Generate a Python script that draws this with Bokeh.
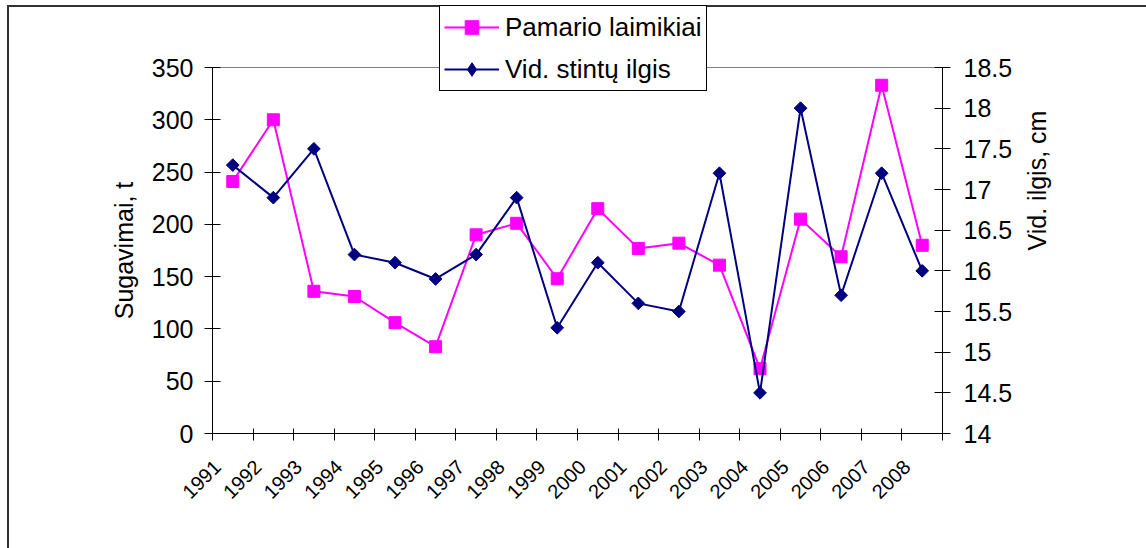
import math
from bokeh.plotting import figure
from bokeh.models import (Range1d, LinearAxis, FixedTicker, Legend, LegendItem,
                          CustomJSTickFormatter, CustomLabelingPolicy)
from bokeh.embed import file_html
from bokeh.resources import INLINE

# ---- data ----
years = ["1991", "1992", "1993", "1994", "1995", "1996", "1997", "1998", "1999",
         "2000", "2001", "2002", "2003", "2004", "2005", "2006", "2007", "2008"]
catch_t = [241, 300, 136, 131, 106, 83, 190, 201, 148,
           215, 177, 182, 161, 62, 205, 169, 333, 180]
length_cm = [17.3, 16.9, 17.5, 16.2, 16.1, 15.9, 16.2, 16.9, 15.3,
             16.1, 15.6, 15.5, 17.2, 14.5, 18.0, 15.7, 17.2, 16.0]
left_ticks = [0, 50, 100, 150, 200, 250, 300, 350]
right_ticks = [14, 14.5, 15, 15.5, 16, 16.5, 17, 17.5, 18, 18.5]
series_names = ["Pamario laimikiai", "Vid. stintų ilgis"]
left_title = "Sugavimai, t"
right_title = "Vid. ilgis, cm"

FONT = "Liberation Sans"
FS = "25px"
XFS = "20px"
LFS = "26px"
PINK = "#FF00FF"
NAVY = "#000080"

# ---- geometry (pixels) ----
W, H = 1146, 548
PLOT_L, PLOT_R = 212, 942          # value-axis positions
AX_TOP, AX_BOT = 67, 433           # value-axis extent
FRAME_L, FRAME_R = 140, 1020       # frame enlarged so nothing gets clipped
FRAME_TOP, FRAME_BOT = 0, 500

n = len(years)
xpos = [i + 0.5 for i in range(n)]
cat_px = (PLOT_R - PLOT_L) / n


def extended_y(lo, hi):
    per_px = (hi - lo) / (AX_BOT - AX_TOP)
    return Range1d(lo - (FRAME_BOT - AX_BOT) * per_px, hi + (AX_TOP - FRAME_TOP) * per_px)


x_range = Range1d(-(PLOT_L - FRAME_L) / cat_px, n + (FRAME_R - PLOT_R) / cat_px)

p = figure(width=W, height=H, output_backend="svg", toolbar_location=None,
           x_range=x_range, y_range=extended_y(left_ticks[0], left_ticks[-1]),
           min_border_left=FRAME_L, min_border_right=W - FRAME_R,
           min_border_top=FRAME_TOP, min_border_bottom=H - FRAME_BOT)
# outer chart-area border (only its left and top edges are inside the window)
p.styles = {"box-shadow": "inset 7px 5px 0 0 #ffffff, inset 9px 7px 0 0 #333333"}
p.grid.visible = False
p.outline_line_color = None
p.background_fill_color = None
p.border_fill_color = None

p.extra_y_ranges = {"cm": extended_y(right_ticks[0], right_ticks[-1])}

# top edge of the plot area
p.segment(x0=0, y0=left_ticks[-1], x1=n, y1=left_ticks[-1],
          line_color="#808080", line_width=1)


def style_text(ax, size):
    ax.major_label_text_font = FONT
    ax.major_label_text_font_size = size
    ax.major_label_text_color = "black"
    ax.axis_line_color = "black"
    ax.major_tick_line_color = "black"
    ax.minor_tick_line_color = None


# x axis: tick marks only, at the category boundaries
xa = p.xaxis[0]
xa.fixed_location = left_ticks[0]
xa.bounds = (0, n)
xa.ticker = FixedTicker(ticks=list(range(n + 1)))
style_text(xa, "0px")
xa.major_tick_in = 5
xa.major_tick_out = 7
xa.major_label_policy = CustomLabelingPolicy(
    code="try { for (const i of Array.from(indices)) indices.unset(i) } catch (e) {} return indices")

# x axis labels (rotated), anchored just right of each boundary tick
LSHIFT = 0.12
xl = LinearAxis(fixed_location=left_ticks[0], bounds=(0, n),
                ticker=FixedTicker(ticks=[i + LSHIFT for i in range(n)]),
                formatter=CustomJSTickFormatter(
                    args=dict(labels=years, shift=LSHIFT),
                    code="const k = Math.round(tick - shift); return labels[k] ?? '';"))
p.add_layout(xl, "below")
style_text(xl, XFS)
xl.axis_line_color = None
xl.major_tick_line_color = None
xl.major_tick_in = 0
xl.major_tick_out = 0
xl.major_label_orientation = math.pi / 4
xl.major_label_standoff = 30

# left value axis
ya = p.yaxis[0]
ya.fixed_location = 0
ya.ticker = FixedTicker(ticks=left_ticks)
ya.bounds = (left_ticks[0], left_ticks[-1])
style_text(ya, FS)
ya.major_tick_in = 8
ya.major_tick_out = 8
ya.major_label_standoff = 11

# right value axis
yr = LinearAxis(y_range_name="cm", fixed_location=n,
                ticker=FixedTicker(ticks=right_ticks),
                bounds=(right_ticks[0], right_ticks[-1]),
                formatter=CustomJSTickFormatter(code="return String(tick)"))
p.add_layout(yr, "right")
style_text(yr, FS)
yr.major_tick_in = 8
yr.major_tick_out = 8
yr.major_label_standoff = 13


# axis titles (title-only axes in the side panels)
def title_axis(text, standoff, **kw):
    t = LinearAxis(ticker=FixedTicker(ticks=[]), axis_label=text, **kw)
    t.axis_line_color = None
    t.major_tick_line_color = None
    t.minor_tick_line_color = None
    t.major_tick_in = 0
    t.major_tick_out = 0
    t.major_label_text_font = FONT
    t.major_label_text_font_size = FS
    t.axis_label_text_font = FONT
    t.axis_label_text_font_size = FS
    t.axis_label_text_font_style = "normal"
    t.axis_label_text_color = "black"
    t.axis_label_standoff = standoff
    return t


lt = title_axis(left_title, 3)
p.add_layout(lt, "left")
rt = title_axis(right_title, 16, y_range_name="cm")
p.add_layout(rt, "right")
rt.axis_label_orientation = math.pi / 2

# series
l1 = p.line(xpos, catch_t, line_color=PINK, line_width=2)
s1 = p.scatter(xpos, catch_t, marker="square", size=12, fill_color=PINK, line_color=PINK)
l2 = p.line(xpos, length_cm, y_range_name="cm", line_color=NAVY, line_width=2)
# diamond swatch for the legend (legend swatches ignore angles); hidden under s2
s2_key = p.scatter(xpos, length_cm, y_range_name="cm", marker="diamond", size=8,
                   fill_color=NAVY, line_color=NAVY)
s2 = p.scatter(xpos, length_cm, y_range_name="cm", marker="square", angle=math.pi / 4,
               size=9, fill_color=NAVY, line_color=NAVY)

legend = Legend(items=[LegendItem(label=series_names[0], renderers=[l1, s1]),
                       LegendItem(label=series_names[1], renderers=[l2, s2_key])],
                location=(439 - FRAME_L, FRAME_BOT - 91), orientation="vertical",
                glyph_width=55, glyph_height=34, label_height=34,
                label_standoff=6, padding=4, spacing=8, margin=0,
                border_line_color="black", border_line_width=1, border_line_alpha=1,
                background_fill_color="white", background_fill_alpha=1,
                label_text_font=FONT, label_text_font_size=LFS,
                label_text_color="black")
p.add_layout(legend)

open("out.html", "w").write(file_html(p, INLINE))
